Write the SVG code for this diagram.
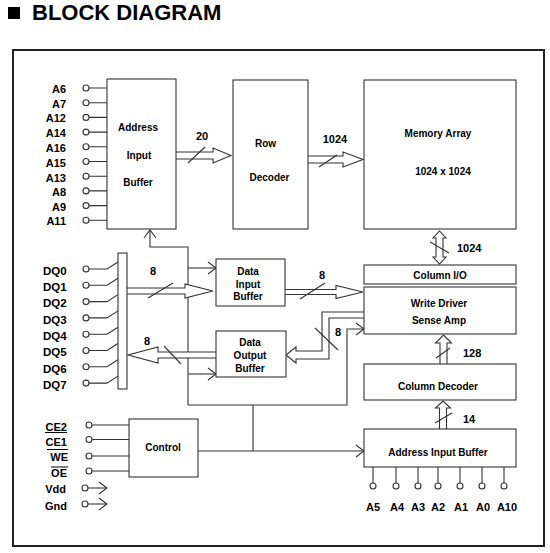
<svg xmlns="http://www.w3.org/2000/svg" width="550" height="553" viewBox="0 0 550 553">
<style>
.box{fill:#fff;stroke:#333;stroke-width:1.1}
.ln{fill:none;stroke:#333;stroke-width:1.1}
.bus{fill:#fff;stroke:#333;stroke-width:1.1;stroke-linejoin:miter}
.pin{fill:#fff;stroke:#333;stroke-width:1.1}
.t{font-family:"Liberation Sans",Arial,sans-serif;font-weight:bold;font-size:10px;fill:#000;text-anchor:middle}
.p{font-family:"Liberation Sans",Arial,sans-serif;font-weight:bold;font-size:11px;fill:#000;text-anchor:end}
.pc{font-family:"Liberation Sans",Arial,sans-serif;font-weight:bold;font-size:11px;fill:#000;text-anchor:middle}
.n{font-family:"Liberation Sans",Arial,sans-serif;font-weight:bold;font-size:11px;fill:#000}
</style>
<defs>
<marker id="chev" markerUnits="userSpaceOnUse" viewBox="-10 -8 12 16" refX="0" refY="0" markerWidth="12" markerHeight="16" orient="auto">
<path d="M-8,-6 L0,0 L-8,6" fill="none" stroke="#333" stroke-width="1.1"/>
</marker>
</defs>
<rect x="0" y="0" width="550" height="553" fill="#fff"/>
<g id="title">
<rect x="8" y="7" width="12" height="12" fill="#000"/>
<text x="32" y="20" font-family="'Liberation Sans',Arial,sans-serif" font-weight="bold" font-size="22" fill="#000">BLOCK DIAGRAM</text>
</g>
<rect id="frame" x="13" y="50" width="531" height="496" fill="none" stroke="#222" stroke-width="2"/>

<g id="connectors">
<!-- control network -->
<path class="ln" d="M188,405 L188,247 L150,247 L150,230" marker-end="url(#chev)"/>
<path class="ln" d="M188,268 L216,268" marker-end="url(#chev)"/>
<path class="ln" d="M188,374 L216,374" marker-end="url(#chev)"/>
<path class="ln" d="M188,405 L347,405 L347,329 L364,329" marker-end="url(#chev)"/>
<path class="ln" d="M253,405 L253,451"/>
<path class="ln" d="M198,451 L364,451" marker-end="url(#chev)"/>
<!-- buses -->
<path class="bus" d="M176,152 L213,152 L213,148 L231,155.5 L213,163 L213,159 L176,159"/>
<path class="bus" d="M308,156 L343,156 L343,152 L363,159.5 L343,167 L343,163 L308,163"/>
<path class="bus" d="M127,288 L185,288 L185,284 L213,291 L185,298 L185,294 L127,294"/>
<path class="bus" d="M285,289.5 L336,289.5 L336,285.5 L363,292 L336,298.5 L336,294.5 L285,294.5"/>
<path class="bus" d="M216,352 L158,352 L158,347 L128,355 L158,363 L158,358 L216,358"/>
<path class="bus" d="M364,312 L322,312 L322,351 L296,351 L296,347 L286,355 L296,363 L296,359 L329,359 L329,318 L364,318"/>
<path class="bus" d="M440,364 L440,343 L435.5,343 L443.5,335 L451.5,343 L447,343 L447,364"/>
<path class="bus" d="M439.5,429 L439.5,408 L435.5,408 L443,401 L450.5,408 L446.5,408 L446.5,429"/>
<path class="bus" d="M436,238 L433,238 L439.5,231 L446,238 L443,238 L443,257 L446,257 L439.5,264 L433,257 L436,257 Z"/>
<!-- slashes -->
<path class="ln" d="M188,163 L205,147 M319,167 L337,155 M430,242 L449,253 M148,298 L173,283 M164,346 L181,364 M300,299 L325,283 M315,328 L338,350 M436,358 L450,348 M435,423 L452,413"/>
<!-- bus labels -->
<text class="n" x="202" y="140" text-anchor="middle">20</text>
<text class="n" x="335" y="143" text-anchor="middle">1024</text>
<text class="n" x="457" y="252">1024</text>
<text class="n" x="153" y="275" text-anchor="middle">8</text>
<text class="n" x="147" y="345" text-anchor="middle">8</text>
<text class="n" x="322" y="279" text-anchor="middle">8</text>
<text class="n" x="338" y="336" text-anchor="middle">8</text>
<text class="n" x="463" y="357">128</text>
<text class="n" x="463" y="423">14</text>
</g>

<g id="address-pins">
<path class="ln" d="M89,88 H107 M89,102.7 H107 M89,117.4 H107 M89,132.1 H107 M89,146.8 H107 M89,161.5 H107 M89,176.2 H107 M89,190.9 H107 M89,205.6 H107 M89,220.3 H107"/>
<circle class="pin" cx="86" cy="88" r="3"/><circle class="pin" cx="86" cy="102.7" r="3"/>
<circle class="pin" cx="86" cy="117.4" r="3"/><circle class="pin" cx="86" cy="132.1" r="3"/>
<circle class="pin" cx="86" cy="146.8" r="3"/><circle class="pin" cx="86" cy="161.5" r="3"/>
<circle class="pin" cx="86" cy="176.2" r="3"/><circle class="pin" cx="86" cy="190.9" r="3"/>
<circle class="pin" cx="86" cy="205.6" r="3"/><circle class="pin" cx="86" cy="220.3" r="3"/>
<text class="p" x="66" y="93">A6</text>
<text class="p" x="66" y="107.5">A7</text>
<text class="p" x="66" y="122">A12</text>
<text class="p" x="66" y="137">A14</text>
<text class="p" x="66" y="152">A16</text>
<text class="p" x="66" y="167">A15</text>
<text class="p" x="66" y="182">A13</text>
<text class="p" x="66" y="196">A8</text>
<text class="p" x="66" y="210.5">A9</text>
<text class="p" x="66" y="225">A11</text>
</g>

<g id="address-input-buffer">
<rect class="box" x="107" y="79" width="69" height="150"/>
<text class="t" x="138" y="131">Address</text>
<text class="t" x="139" y="159">Input</text>
<text class="t" x="138" y="186">Buffer</text>
</g>

<g id="row-decoder">
<rect class="box" x="233" y="80" width="75" height="149"/>
<text class="t" x="265.5" y="147">Row</text>
<text class="t" x="269.5" y="181">Decoder</text>
</g>

<g id="memory-array">
<rect class="box" x="364" y="80" width="152" height="149"/>
<text class="t" x="438" y="137">Memory Array</text>
<text class="t" x="443" y="175">1024 x 1024</text>
</g>

<g id="column-io">
<rect class="box" x="364" y="265" width="152" height="19"/>
<text class="t" x="440" y="279">Column I/O</text>
</g>

<g id="write-driver">
<rect class="box" x="364" y="287" width="152" height="47"/>
<text class="t" x="439" y="307">Write Driver</text>
<text class="t" x="439" y="324">Sense Amp</text>
</g>

<g id="column-decoder">
<rect class="box" x="364" y="364" width="152" height="36"/>
<text class="t" x="438" y="390">Column Decoder</text>
</g>

<g id="address-input-buffer-2">
<rect class="box" x="364" y="429" width="152" height="38"/>
<text class="t" x="438" y="456">Address Input Buffer</text>
</g>

<g id="bottom-pins">
<path class="ln" d="M373,467 V483 M396,467 V483 M418,467 V483 M438,467 V483 M460,467 V483 M482,467 V483 M504,467 V483"/>
<circle class="pin" cx="373" cy="486" r="3"/><circle class="pin" cx="396" cy="486" r="3"/>
<circle class="pin" cx="418" cy="486" r="3"/><circle class="pin" cx="438" cy="486" r="3"/>
<circle class="pin" cx="460" cy="486" r="3"/><circle class="pin" cx="482" cy="486" r="3"/>
<circle class="pin" cx="504" cy="486" r="3"/>
<text class="pc" x="373" y="511">A5</text>
<text class="pc" x="397" y="511">A4</text>
<text class="pc" x="418" y="511">A3</text>
<text class="pc" x="438" y="511">A2</text>
<text class="pc" x="461" y="511">A1</text>
<text class="pc" x="483" y="511">A0</text>
<text class="pc" x="507" y="511">A10</text>
</g>

<g id="dq-pins">
<path class="ln" d="M89,269 H107 L118,262 M89,285.3 H107 L118,278.3 M89,301.6 H107 L118,294.6 M89,317.9 H107 L118,310.9 M89,334.2 H107 L118,327.2 M89,350.5 H107 L118,343.5 M89,366.8 H107 L118,359.8 M89,383.1 H107 L118,376.1"/>
<circle class="pin" cx="86" cy="269" r="3"/><circle class="pin" cx="86" cy="285.3" r="3"/>
<circle class="pin" cx="86" cy="301.6" r="3"/><circle class="pin" cx="86" cy="317.9" r="3"/>
<circle class="pin" cx="86" cy="334.2" r="3"/><circle class="pin" cx="86" cy="350.5" r="3"/>
<circle class="pin" cx="86" cy="366.8" r="3"/><circle class="pin" cx="86" cy="383.1" r="3"/>
<g font-family="'Liberation Sans',Arial,sans-serif" font-weight="bold" font-size="11.5" fill="#000">
<text x="43" y="275">DQ0</text>
<text x="43" y="291">DQ1</text>
<text x="43" y="307">DQ2</text>
<text x="43" y="323.5">DQ3</text>
<text x="43" y="340">DQ4</text>
<text x="43" y="356">DQ5</text>
<text x="43" y="372.5">DQ6</text>
<text x="43" y="389">DQ7</text>
</g>
</g>

<g id="io-mux">
<rect class="box" x="118" y="253" width="9" height="136"/>
</g>

<g id="data-input-buffer">
<rect class="box" x="216" y="259" width="69" height="47"/>
<text class="t" x="248" y="275">Data</text>
<text class="t" x="248" y="287.5">Input</text>
<text class="t" x="248" y="300">Buffer</text>
</g>

<g id="data-output-buffer">
<rect class="box" x="216" y="331" width="70" height="46"/>
<text class="t" x="250" y="346">Data</text>
<text class="t" x="250" y="359">Output</text>
<text class="t" x="250" y="372">Buffer</text>
</g>

<g id="control">
<rect class="box" x="129" y="419" width="69" height="58"/>
<text class="t" x="163" y="451">Control</text>
</g>

<g id="control-pins">
<path class="ln" d="M92,425 H129 M92,439.5 H129 M92,456 H129 M92,471 H129"/>
<circle class="pin" cx="89" cy="425" r="3"/><circle class="pin" cx="89" cy="439.5" r="3"/>
<circle class="pin" cx="89" cy="456" r="3"/><circle class="pin" cx="89" cy="471" r="3"/>
<path class="ln" d="M88,488 H107" marker-end="url(#chev)"/>
<path class="ln" d="M88,504 H107" marker-end="url(#chev)"/>
<circle class="pin" cx="85" cy="488" r="3"/><circle class="pin" cx="85" cy="504" r="3"/>
<text class="p" x="67" y="431">CE2</text>
<text class="p" x="67" y="446">CE1</text>
<text class="p" x="68" y="461">WE</text>
<text class="p" x="67" y="477">OE</text>
<text class="p" x="66" y="493">Vdd</text>
<text class="p" x="67" y="510">Gnd</text>
<path d="M45,432.5 H67 M47,449.5 H68 M51,467 H68" stroke="#000" stroke-width="1" fill="none"/>
</g>
</svg>
